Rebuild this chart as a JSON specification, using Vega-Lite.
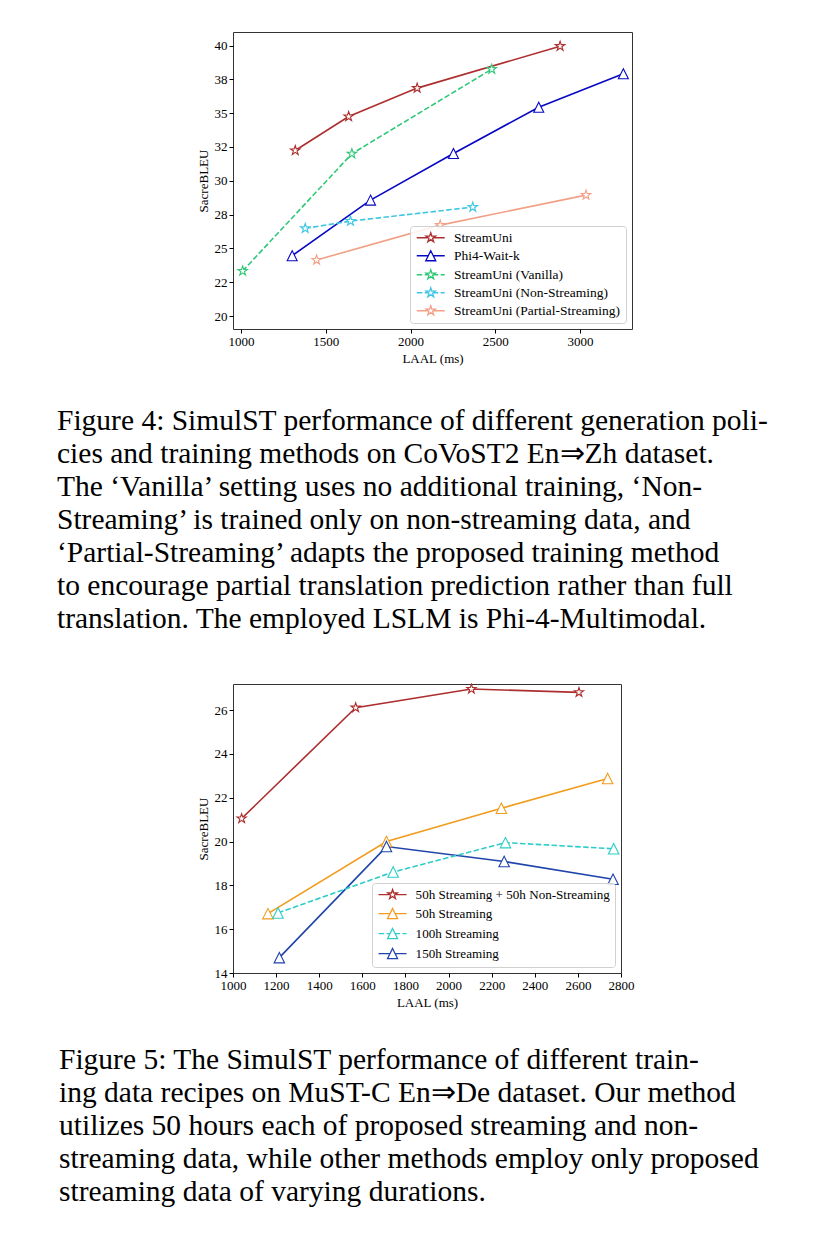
{
  "$schema": "https://vega.github.io/schema/vega-lite/v6.json",
  "padding": {"left": 56, "top": 31, "right": 5, "bottom": 5},
  "spacing": 47,
  "resolve": {
    "scale": {"color": "independent"},
    "legend": {"color": "independent"}
  },
  "config": {
    "font": "Liberation Serif",
    "view": {"stroke": "#333333", "strokeWidth": 1},
    "axis": {
      "grid": false,
      "domain": false,
      "labelFont": "Liberation Serif",
      "labelFontSize": 13,
      "labelColor": "black",
      "labelFlush": false,
      "labelOverlap": false,
      "titleFont": "Liberation Serif",
      "titleFontSize": 13,
      "titleFontWeight": "normal",
      "titleColor": "black",
      "tickColor": "black",
      "tickSize": 4,
      "labelPadding": 2,
      "format": "d"
    },
    "legend": {
      "labelFont": "Liberation Serif",
      "labelFontSize": 13.5,
      "labelColor": "black",
      "orient": "bottom-right",
      "offset": 6,
      "padding": 5,
      "rowPadding": 3,
      "symbolSize": 100,
      "symbolStrokeWidth": 1.3,
      "labelOffset": 25.5,
      "labelLimit": 400,
      "fillColor": "rgba(255,255,255,0.85)",
      "strokeColor": "#d0d0d0",
      "cornerRadius": 3,
      "title": null
    },
    "title": {
      "font": "Liberation Serif",
      "fontSize": 29.5,
      "fontWeight": "normal",
      "color": "black",
      "orient": "bottom",
      "anchor": "start",
      "frame": "group"
    }
  },
  "vconcat": [
    {
      "width": 399,
      "height": 297,
      "title": {
        "text": [
          "Figure 4: SimulST performance of different generation poli-",
          "cies and training methods on CoVoST2 En⇒Zh dataset.",
          "The ‘Vanilla’ setting uses no additional training, ‘Non-",
          "Streaming’ is trained only on non-streaming data, and",
          "‘Partial-Streaming’ adapts the proposed training method",
          "to encourage partial translation prediction rather than full",
          "translation. The employed LSLM is Phi-4-Multimodal."
        ],
        "lineHeight": 33,
        "offset": 42,
        "dx": -176
      },
      "data": {
        "values": [
          {"series": "StreamUni", "laal": 1320, "bleu": 32.24},
          {"series": "StreamUni", "laal": 1635, "bleu": 34.75},
          {"series": "StreamUni", "laal": 2039, "bleu": 36.85},
          {"series": "StreamUni", "laal": 2882, "bleu": 39.95},
          {"series": "Phi4-Wait-k", "laal": 1302, "bleu": 24.46},
          {"series": "Phi4-Wait-k", "laal": 1764, "bleu": 28.57},
          {"series": "Phi4-Wait-k", "laal": 2253, "bleu": 32.02},
          {"series": "Phi4-Wait-k", "laal": 2756, "bleu": 35.44},
          {"series": "Phi4-Wait-k", "laal": 3255, "bleu": 37.91},
          {"series": "StreamUni (Vanilla)", "laal": 1010, "bleu": 23.33},
          {"series": "StreamUni (Vanilla)", "laal": 1654, "bleu": 32.0},
          {"series": "StreamUni (Vanilla)", "laal": 2479, "bleu": 38.25},
          {"series": "StreamUni (Non-Streaming)", "laal": 1379, "bleu": 26.48},
          {"series": "StreamUni (Non-Streaming)", "laal": 1646, "bleu": 27.02},
          {"series": "StreamUni (Non-Streaming)", "laal": 2367, "bleu": 28.05},
          {"series": "StreamUni (Partial-Streaming)", "laal": 1446, "bleu": 24.14},
          {"series": "StreamUni (Partial-Streaming)", "laal": 2175, "bleu": 26.72},
          {"series": "StreamUni (Partial-Streaming)", "laal": 3035, "bleu": 28.94}
        ]
      },
      "encoding": {
        "x": {
          "field": "laal", "type": "quantitative", "title": "LAAL (ms)",
          "scale": {"domain": [953, 3306], "nice": false, "zero": false},
          "axis": {"values": [1000, 1500, 2000, 2500, 3000]}
        },
        "y": {
          "field": "bleu", "type": "quantitative", "title": "SacreBLEU",
          "scale": {"domain": [19.04, 41.0], "nice": false, "zero": false},
          "axis": {
            "values": [20, 22.5, 25, 27.5, 30, 32.5, 35, 37.5, 40],
            "labelExpr": "datum.value % 5 == 0 ? format(datum.value, 'd') : format(2 * round(datum.value / 2), 'd')"
          }
        },
        "color": {
          "field": "series", "type": "nominal",
          "scale": {
            "domain": ["StreamUni", "Phi4-Wait-k", "StreamUni (Vanilla)", "StreamUni (Non-Streaming)", "StreamUni (Partial-Streaming)"],
            "range": ["#ad2e2e", "#0808c4", "#2ec878", "#3ec6e4", "#f2a086"]
          },
          "legend": {
            "encoding": {
              "symbols": {
                "fill": {"value": "white"},
                "shape": {"value": {"expr": "datum.value == 'Phi4-Wait-k' ? 'M-1,0H1.3M2.3,0H4.6M1.8,-1L2.8,1L0.8,1Z' : (datum.value == 'StreamUni (Vanilla)' || datum.value == 'StreamUni (Non-Streaming)') ? 'M-1,0H0.11M0.59,0H1.28M2.32,0H3.29M3.77,0H4.6M1.8,-1L2.025,-0.309L2.751,-0.309L2.163,0.118L2.388,0.809L1.8,0.382L1.212,0.809L1.437,0.118L0.849,-0.309L1.575,-0.309Z' : 'M-1,0H1.28M2.32,0H4.6M1.8,-1L2.025,-0.309L2.751,-0.309L2.163,0.118L2.388,0.809L1.8,0.382L1.212,0.809L1.437,0.118L0.849,-0.309L1.575,-0.309Z'"}}
              }
            }
          }
        }
      },
      "layer": [
        {
          "transform": [{"filter": {"field": "series", "oneOf": ["StreamUni", "Phi4-Wait-k", "StreamUni (Partial-Streaming)"]}}],
          "mark": {"type": "line", "strokeWidth": 1.6}
        },
        {
          "transform": [{"filter": {"field": "series", "oneOf": ["StreamUni (Vanilla)", "StreamUni (Non-Streaming)"]}}],
          "mark": {"type": "line", "strokeWidth": 1.6, "strokeDash": [5.5, 2.4]}
        },
        {
          "transform": [{"filter": {"field": "series", "oneOf": ["StreamUni", "StreamUni (Vanilla)", "StreamUni (Non-Streaming)", "StreamUni (Partial-Streaming)"]}}],
          "mark": {"type": "point", "filled": false, "fill": "white", "fillOpacity": 1, "strokeWidth": 1.1, "size": 100, "opacity": 1,
                   "shape": "M0,-1L0.225,-0.309L0.951,-0.309L0.363,0.118L0.588,0.809L0,0.382L-0.588,0.809L-0.363,0.118L-0.951,-0.309L-0.225,-0.309Z"}
        },
        {
          "transform": [{"filter": {"field": "series", "oneOf": ["Phi4-Wait-k"]}}],
          "mark": {"type": "point", "filled": false, "fill": "white", "fillOpacity": 1, "strokeWidth": 1.1, "size": 100, "opacity": 1,
                   "shape": "M0,-1L1,1L-1,1Z"}
        }
      ]
    },
    {
      "width": 388,
      "height": 289,
      "title": {
        "text": [
          "Figure 5: The SimulST performance of different train-",
          "ing data recipes on MuST-C En⇒De dataset. Our method",
          "utilizes 50 hours each of proposed streaming and non-",
          "streaming data, while other methods employ only proposed",
          "streaming data of varying durations."
        ],
        "lineHeight": 33,
        "offset": 37,
        "dx": -174
      },
      "data": {
        "values": [
          {"series": "50h Streaming + 50h Non-Streaming", "laal": 1040, "bleu": 21.05},
          {"series": "50h Streaming + 50h Non-Streaming", "laal": 1569, "bleu": 26.11},
          {"series": "50h Streaming + 50h Non-Streaming", "laal": 2106, "bleu": 26.96},
          {"series": "50h Streaming + 50h Non-Streaming", "laal": 2605, "bleu": 26.81},
          {"series": "50h Streaming", "laal": 1162, "bleu": 16.71},
          {"series": "50h Streaming", "laal": 1712, "bleu": 20.0},
          {"series": "50h Streaming", "laal": 2245, "bleu": 21.52},
          {"series": "50h Streaming", "laal": 2738, "bleu": 22.88},
          {"series": "100h Streaming", "laal": 1209, "bleu": 16.74},
          {"series": "100h Streaming", "laal": 1743, "bleu": 18.61},
          {"series": "100h Streaming", "laal": 2264, "bleu": 19.95},
          {"series": "100h Streaming", "laal": 2766, "bleu": 19.67},
          {"series": "150h Streaming", "laal": 1215, "bleu": 14.7},
          {"series": "150h Streaming", "laal": 1712, "bleu": 19.77},
          {"series": "150h Streaming", "laal": 2258, "bleu": 19.09},
          {"series": "150h Streaming", "laal": 2763, "bleu": 18.28}
        ]
      },
      "encoding": {
        "x": {
          "field": "laal", "type": "quantitative", "title": "LAAL (ms)",
          "scale": {"domain": [1000, 2800], "nice": false, "zero": false},
          "axis": {"values": [1000, 1200, 1400, 1600, 1800, 2000, 2200, 2400, 2600, 2800]}
        },
        "y": {
          "field": "bleu", "type": "quantitative", "title": "SacreBLEU",
          "scale": {"domain": [14, 27.19], "nice": false, "zero": false},
          "axis": {"values": [14, 16, 18, 20, 22, 24, 26]}
        },
        "color": {
          "field": "series", "type": "nominal",
          "scale": {
            "domain": ["50h Streaming + 50h Non-Streaming", "50h Streaming", "100h Streaming", "150h Streaming"],
            "range": ["#ad2e2e", "#f29c1c", "#2ccdc8", "#1f44aa"]
          },
          "legend": {
            "labelFontSize": 13.1,
            "encoding": {
              "symbols": {
                "fill": {"value": "white"},
                "shape": {"value": {"expr": "datum.value == '50h Streaming + 50h Non-Streaming' ? 'M-1,0H1.28M2.32,0H4.6M1.8,-1L2.025,-0.309L2.751,-0.309L2.163,0.118L2.388,0.809L1.8,0.382L1.212,0.809L1.437,0.118L0.849,-0.309L1.575,-0.309Z' : datum.value == '100h Streaming' ? 'M-1,0H0.11M0.59,0H1.3M2.3,0H3.29M3.77,0H4.6M1.8,-1L2.8,1L0.8,1Z' : 'M-1,0H1.3M2.3,0H4.6M1.8,-1L2.8,1L0.8,1Z'"}}
              }
            }
          }
        }
      },
      "layer": [
        {
          "transform": [{"filter": {"field": "series", "oneOf": ["50h Streaming + 50h Non-Streaming", "50h Streaming", "150h Streaming"]}}],
          "mark": {"type": "line", "strokeWidth": 1.6}
        },
        {
          "transform": [{"filter": {"field": "series", "oneOf": ["100h Streaming"]}}],
          "mark": {"type": "line", "strokeWidth": 1.6, "strokeDash": [5.5, 2.4]}
        },
        {
          "transform": [{"filter": {"field": "series", "oneOf": ["50h Streaming + 50h Non-Streaming"]}}],
          "mark": {"type": "point", "filled": false, "fill": "white", "fillOpacity": 1, "strokeWidth": 1.1, "size": 95, "opacity": 1,
                   "shape": "M0,-1L0.225,-0.309L0.951,-0.309L0.363,0.118L0.588,0.809L0,0.382L-0.588,0.809L-0.363,0.118L-0.951,-0.309L-0.225,-0.309Z"}
        },
        {
          "transform": [{"filter": {"field": "series", "oneOf": ["50h Streaming", "100h Streaming", "150h Streaming"]}}],
          "mark": {"type": "point", "filled": false, "fill": "white", "fillOpacity": 1, "strokeWidth": 1.1, "size": 110, "opacity": 1,
                   "shape": "M0,-1L1,1L-1,1Z"}
        }
      ]
    }
  ]
}
